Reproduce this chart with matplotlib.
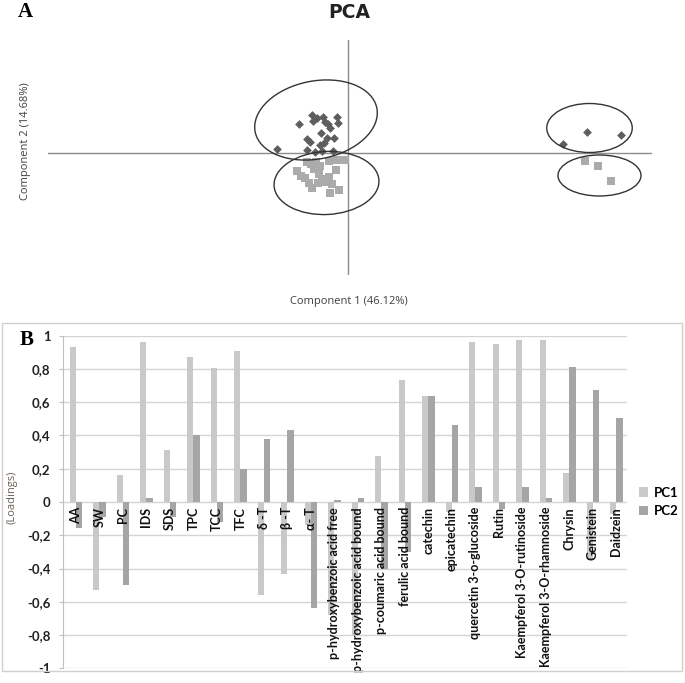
import matplotlib

matplotlib.use("Agg")
import matplotlib.pyplot as plt
from matplotlib.patches import Ellipse, Rectangle

# ----------------------------------------------------------------------
# Panel A - PCA scores
# ----------------------------------------------------------------------
diam_x = [-1.43, -0.98, -0.72, -0.70, -0.62, -0.50, -0.46, -0.40, -0.36, -0.23, -0.20,
          -0.54, -0.83, -0.76, -0.48, -0.29, -0.83, -0.66, -0.52, -0.31, -0.56, -0.42,
          4.29, 4.77, 5.46]
diam_y = [0.08, 0.59, 0.76, 0.64, 0.70, 0.73, 0.63, 0.58, 0.51, 0.73, 0.60,
          0.41, 0.29, 0.23, 0.20, 0.30, 0.06, 0.02, 0.05, 0.05, 0.16, 0.31,
          0.18, 0.43, 0.37]
sq_x = [-1.02, -0.95, -0.86, -0.82, -0.74, -0.69, -0.64, -0.59, -0.56, -0.39, -0.22,
        -0.06, -0.25, -0.78, -0.72, -0.60, -0.52, -0.45, -0.39, -0.32, -0.36, -0.19,
        4.74, 4.99, 5.26]
sq_y = [-0.35, -0.45, -0.50, -0.18, -0.22, -0.32, -0.17, -0.42, -0.26, -0.16, -0.14,
        -0.13, -0.34, -0.60, -0.69, -0.60, -0.51, -0.58, -0.47, -0.62, -0.79, -0.74,
        -0.15, -0.25, -0.55]

# group ellipses: centre x, centre y, width, height, angle
ell_cx = [-0.64, -0.43, 4.83, 5.03]
ell_cy = [0.66, -0.60, 0.50, -0.45]
ell_w = [2.48, 2.10, 1.71, 1.66]
ell_h = [1.56, 1.26, 0.98, 0.82]
ell_ang = [11, 3, 0, 0]

# ----------------------------------------------------------------------
# Panel B - loadings
# ----------------------------------------------------------------------
variaveis = ["AA", "SW", "PC", "IDS", "SDS", "TPC", "TCC", "TFC", "δ -T", "β -T", "α- T",
             "p-hydroxybenzoic acid free", "p-hydroxybenzoic acid bound",
             "p-coumaric acid bound", "ferulic acid bound", "catechin", "epicatechin",
             "quercetin 3-o-glucoside", "Rutin", "Kaempferol 3-O-rutinoside",
             "Kaempferol 3-O-rhamnoside", "Chrysin", "Genistein", "Daidzein"]
pc1 = [0.93, -0.53, 0.165, 0.965, 0.31, 0.87, 0.805, 0.91, -0.56, -0.43, -0.14,
       -0.68, -0.80, 0.275, 0.735, 0.635, -0.06, 0.965, 0.95, 0.975,
       0.975, 0.175, -0.35, -0.07]
pc2 = [-0.155, -0.09, -0.50, 0.025, -0.09, 0.40, -0.12, 0.20, 0.38, 0.435, -0.64,
       0.015, 0.022, -0.40, -0.30, 0.64, 0.465, 0.093, -0.04, 0.09,
       0.024, 0.81, 0.675, 0.505]
yticks = [1, 0.8, 0.6, 0.4, 0.2, 0, -0.2, -0.4, -0.6, -0.8, -1]

COR_PC1 = "#c9c9c9"
COR_PC2 = "#a5a5a5"
FONTE = ["Lato", "DejaVu Sans"]

fig = plt.figure(figsize=(6.85, 6.83), dpi=100)

# ---- panel A ----
axA = fig.add_axes([48 / 685, 1 - 275 / 683, 604 / 685, 235 / 683])
axA.set_xlim(-6.0, 6.08)
axA.set_ylim(-2.44, 2.26)
axA.axhline(0, color="#8c8c8c", lw=1.0, zorder=1)
axA.axvline(0, color="#8c8c8c", lw=1.0, zorder=1)
axA.scatter(sq_x, sq_y, marker="s", s=30, color="#ababab", lw=0, zorder=2)
axA.scatter(diam_x, diam_y, marker="D", s=20, color="#5e5e5e", lw=0, zorder=3)
for cx, cy, w, h, a in zip(ell_cx, ell_cy, ell_w, ell_h, ell_ang):
    axA.add_patch(Ellipse((cx, cy), w, h, angle=a, fill=False,
                          ec="#333333", lw=1.0, zorder=4))
axA.axis("off")

fig.text(349 / 685, 1 - 13 / 683, "PCA", ha="center", va="center",
         fontsize=13.5, fontweight="bold", color="#222222")
fig.text(25 / 685, 1 - 12 / 683, "A", ha="center", va="center", fontsize=15,
         fontweight="bold", family="Liberation Serif")
fig.text(349 / 685, 1 - 302 / 683, "Component 1 (46.12%)", ha="center", va="center",
         fontsize=8, family="Open Sans", color="#404040")
fig.text(26 / 685, 1 - 141 / 683, "Component 2 (14.68%)", ha="center", va="center",
         fontsize=8, family="Open Sans", color="#404040", rotation=90)

# ---- panel B ----
fig.patches.append(Rectangle((2 / 685, 1 - 671 / 683), 680 / 685, 348 / 683,
                             transform=fig.transFigure, fill=False,
                             ec="#d0d0d0", lw=1.0))

axB = fig.add_axes([63 / 685, 1 - 668.3 / 683, 564 / 685, 332.6 / 683])
idx = list(range(len(variaveis)))
larg = 0.27
axB.bar([i - larg / 2 + 0.05 for i in idx], pc1, width=larg, color=COR_PC1,
        label="PC1", zorder=2)
axB.bar([i + larg / 2 + 0.05 for i in idx], pc2, width=larg, color=COR_PC2,
        label="PC2", zorder=2)
axB.set_xlim(-0.5, len(variaveis) - 0.5)
axB.set_ylim(-1, 1)
axB.set_yticks(yticks)
axB.set_yticklabels([f"{v:g}".replace(".", ",") for v in yticks],
                    fontweight="bold", fontsize=9.5, family=FONTE, color="#222222")
axB.tick_params(axis="y", length=3, color="#c0c0c0", pad=6)
axB.set_xticks([])
axB.grid(axis="y", color="#d4d4d4", lw=1.0, zorder=0)
for lado in ["top", "right", "bottom"]:
    axB.spines[lado].set_visible(False)
axB.spines["left"].set_color("#c0c0c0")

for i, nome in enumerate(variaveis):
    axB.text(i + 0.05, -0.03, nome, rotation=90, ha="center", va="top",
             fontsize=9, fontweight="bold", family=FONTE, color="#111111", zorder=3)

axB.legend(loc="center left", bbox_to_anchor=(1.0, 0.5), frameon=False,
           prop={"family": FONTE, "weight": "bold", "size": 9.5},
           handlelength=0.7, handleheight=0.7, handletextpad=0.4, labelspacing=0.5)

fig.text(12 / 685, 1 - 497 / 683, "(Loadings)", ha="center", va="center", rotation=90,
         fontsize=8, family="Open Sans", color="#6b6257")
fig.text(27 / 685, 1 - 340 / 683, "B", ha="center", va="center", fontsize=15,
         fontweight="bold", family="Liberation Serif")

fig.savefig("out.png", dpi=100)
